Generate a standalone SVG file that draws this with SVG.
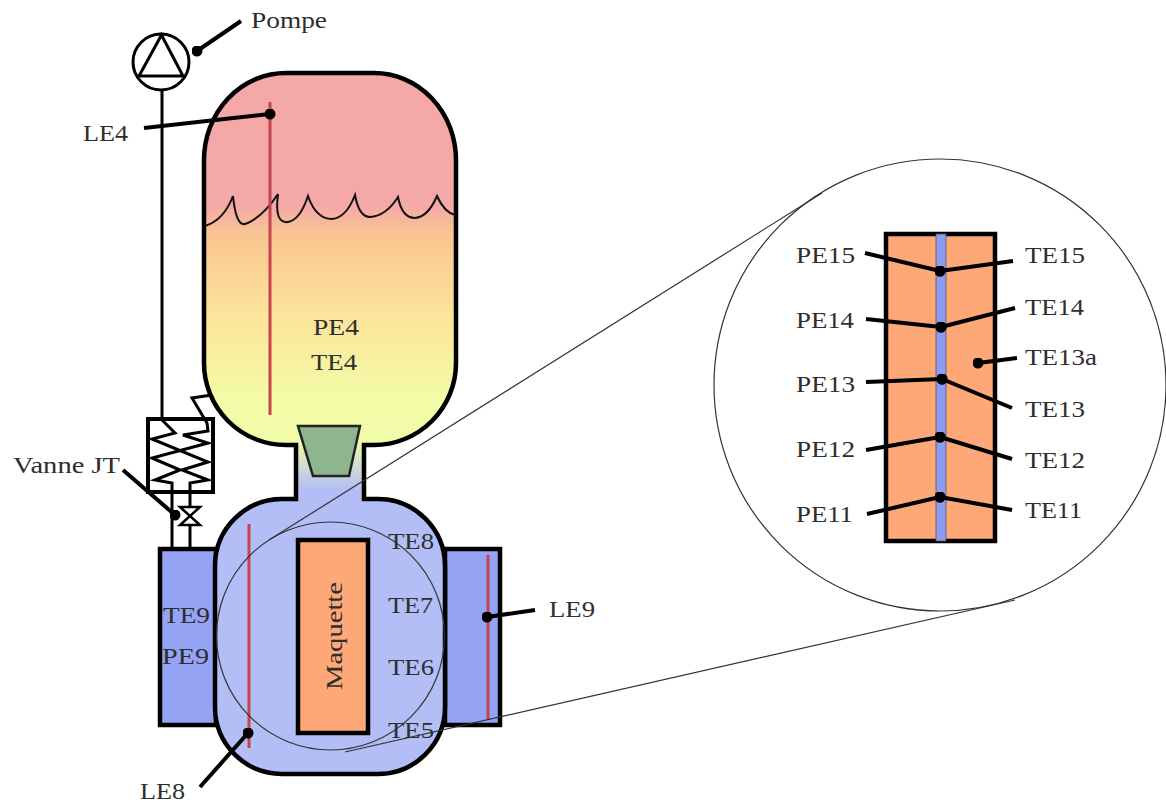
<svg xmlns="http://www.w3.org/2000/svg" width="1166" height="805" viewBox="0 0 1166 805">
<defs>
<linearGradient id="tankFill" gradientUnits="userSpaceOnUse" x1="0" y1="73" x2="0" y2="774">
<stop offset="0.188" stop-color="#f5a8a8"/>
<stop offset="0.231" stop-color="#f9c692"/>
<stop offset="0.352" stop-color="#fbe59b"/>
<stop offset="0.466" stop-color="#f3fca6"/>
<stop offset="0.525" stop-color="#f1fba8"/>
<stop offset="0.595" stop-color="#b2bef5"/>
</linearGradient>
<marker id="dot" viewBox="0 0 12 12" refX="6" refY="6" markerWidth="11" markerHeight="11" markerUnits="userSpaceOnUse"><circle cx="6" cy="6" r="6" fill="#000"/></marker>
</defs>
<style>
text{font-family:"Liberation Serif","Times New Roman",serif;font-size:23px;fill:#2e2e2e}
.thick{stroke:#000;stroke-width:4.5;stroke-linejoin:miter}
.pipe{fill:none;stroke:#000;stroke-width:3;stroke-linejoin:miter}
.red{stroke:#c8434b;stroke-width:3;fill:none}
.thin{fill:none;stroke:#333;stroke-width:1.200}
.lead{stroke:#000;stroke-width:4;fill:none;marker-end:url(#dot)}
.box{fill:#95a3f5;stroke:#000;stroke-width:4.5}
.mq{fill:#ffa877;stroke:#000;stroke-width:4.5}
</style>
<rect width="1166" height="805" fill="#fff"/>

<g id="pipes">
<path class="pipe" d="M162,90V420L175,433L152,439L208,462L182,470L208,480L190,483V549"/>
<path class="pipe" d="M212,395L192,398L207,423L208,431L183,435L208,443L152,458L180,470L155,480L172,483V550"/>
</g>
<g id="pompe">
<circle cx="161" cy="62" r="28" fill="none" stroke="#000" stroke-width="3"/>
<path d="M161.500,35L183,76H139Z" fill="none" stroke="#000" stroke-width="3"/>
</g>
<g id="echangeur"><rect x="148" y="419" width="65" height="73" fill="none" stroke="#000" stroke-width="4"/></g>
<g id="vanne"><path d="M180,507H200L180,525H200Z" fill="#fff" stroke="#000" stroke-width="2.500"/></g>
<g id="boite-gauche"><rect class="box" x="160" y="549" width="56" height="176"/></g>
<g id="boite-droite">
<rect class="box" x="445" y="549" width="55" height="176"/>
<path class="red" d="M488,555V720"/>
</g>
<g id="reservoir">
<path class="thick" fill="url(#tankFill)" d="M286,73H374A82,87 0 0 1 456,160V363A82,82 0 0 1 374,445H364V499H378A67,67 0 0 1 445,566V707A67,67 0 0 1 378,774H282A67,67 0 0 1 215,707V566A67,67 0 0 1 282,499H296V445H286A82,82 0 0 1 204,363V160A82,87 0 0 1 286,73Z"/>
<path d="M205,226Q224,220 233,196Q236,226 245,224Q262,218 278,194Q274,224 288,222Q300,220 308,196Q316,219 332,219Q346,218 355,195Q359,217 370,217Q386,216 398,197Q402,218 415,218Q428,217 437,196Q444,212 455,215" fill="none" stroke="#111" stroke-width="2"/>
<path class="red" d="M270,102V415"/>
<path class="red" d="M249,524V748"/>
</g>
<g id="cone"><path d="M298,426H360L349,476H313Z" fill="#8fb58f" stroke="#222" stroke-width="2.500"/></g>
<g id="maquette">
<rect class="mq" x="298" y="540" width="70" height="193"/>
<text transform="translate(342,690) rotate(-90)" textLength="108" lengthAdjust="spacingAndGlyphs">Maquette</text>
</g>
<g id="zoom">
<circle class="thin" cx="330.500" cy="636" r="114"/>
<circle class="thin" cx="940" cy="385" r="226"/>
<path class="thin" d="M269,540L822,193"/>
<path class="thin" d="M345,752L1015,600"/>
</g>
<g id="coupe">
<rect class="mq" x="886" y="234" width="109" height="307"/>
<rect x="936" y="234" width="10" height="307" fill="#8c9cf5" stroke="#555" stroke-width="0.800"/>
</g>
<g id="connectors">
<path class="lead" d="M241,21L197,51"/>
<path class="lead" d="M144,128L270,114"/>
<path class="lead" d="M123,470L175,515"/>
<path class="lead" d="M200,787L248,733"/>
<path class="lead" d="M535,610L487,617"/>
<path class="lead" d="M865,253L940,271"/>
<path class="lead" d="M1013,261L940,271"/>
<path class="lead" d="M866,319L941,327"/>
<path class="lead" d="M1015,308L941,327"/>
<path class="lead" d="M866,382L942,379"/>
<path class="lead" d="M1012,408L942,379"/>
<path class="lead" d="M866,450L940,437"/>
<path class="lead" d="M1012,459L940,437"/>
<path class="lead" d="M867,514L940,497"/>
<path class="lead" d="M1012,510L940,497"/>
<path class="lead" d="M1017,358L978,363"/>
</g>
<g id="labels">
<text x="251" y="28" textLength="76" lengthAdjust="spacingAndGlyphs">Pompe</text>
<text x="83" y="141" textLength="45" lengthAdjust="spacingAndGlyphs">LE4</text>
<text x="13" y="473" textLength="107" lengthAdjust="spacingAndGlyphs">Vanne JT</text>
<text x="140" y="799" textLength="45" lengthAdjust="spacingAndGlyphs">LE8</text>
<text x="549" y="617" textLength="46" lengthAdjust="spacingAndGlyphs">LE9</text>
<text x="313" y="335" textLength="46" lengthAdjust="spacingAndGlyphs">PE4</text>
<text x="311" y="370" textLength="46" lengthAdjust="spacingAndGlyphs">TE4</text>
<text x="388" y="549" textLength="46" lengthAdjust="spacingAndGlyphs">TE8</text>
<text x="388" y="613" textLength="45" lengthAdjust="spacingAndGlyphs">TE7</text>
<text x="388" y="675" textLength="46" lengthAdjust="spacingAndGlyphs">TE6</text>
<text x="388" y="738" textLength="46" lengthAdjust="spacingAndGlyphs">TE5</text>
<text x="163" y="623" textLength="47" lengthAdjust="spacingAndGlyphs">TE9</text>
<text x="162" y="664" textLength="47" lengthAdjust="spacingAndGlyphs">PE9</text>
<text x="796" y="263" textLength="59" lengthAdjust="spacingAndGlyphs">PE15</text>
<text x="1025" y="263" textLength="60" lengthAdjust="spacingAndGlyphs">TE15</text>
<text x="796" y="328" textLength="58" lengthAdjust="spacingAndGlyphs">PE14</text>
<text x="1025" y="315" textLength="59" lengthAdjust="spacingAndGlyphs">TE14</text>
<text x="796" y="392" textLength="59" lengthAdjust="spacingAndGlyphs">PE13</text>
<text x="1025" y="365" textLength="72" lengthAdjust="spacingAndGlyphs">TE13a</text>
<text x="1025" y="417" textLength="60" lengthAdjust="spacingAndGlyphs">TE13</text>
<text x="796" y="457" textLength="59" lengthAdjust="spacingAndGlyphs">PE12</text>
<text x="1025" y="468" textLength="60" lengthAdjust="spacingAndGlyphs">TE12</text>
<text x="796" y="522" textLength="57" lengthAdjust="spacingAndGlyphs">PE11</text>
<text x="1025" y="518" textLength="57" lengthAdjust="spacingAndGlyphs">TE11</text>
</g>
</svg>
